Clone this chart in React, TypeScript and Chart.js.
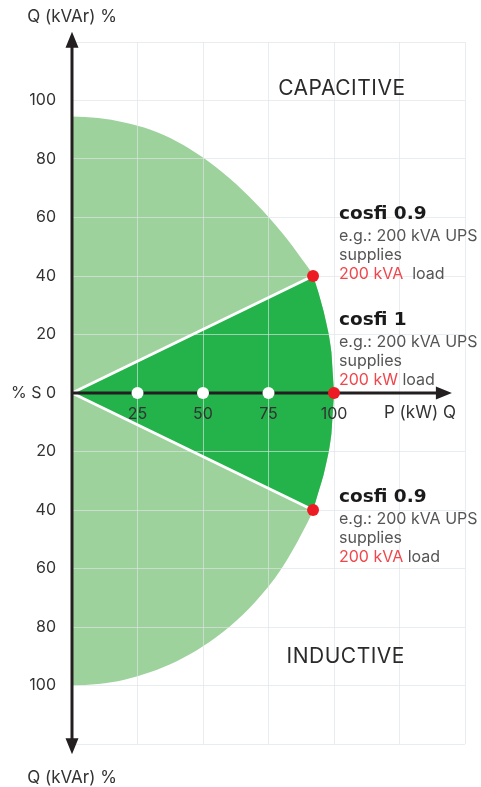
import { useEffect, useRef } from 'react';
import { Chart, registerables } from 'chart.js';

Chart.register(...registerables);

const FONT = 'Inter, "Open Sans", sans-serif';
const BOLD_FONT = '"DejaVu Sans", Inter, sans-serif';

// x (P, kW %) and y (Q, kVAr %) axis tick labels
const xTickLabels = [25, 50, 75, 100];
const yTickLabels = [100, 80, 60, 40, 20, 0, 20, 40, 60, 80, 100];
const zeroLabel = '% S 0';

// outline of the capability area
const arcX = [0, 10, 20, 30, 40, 50, 60, 70, 80, 88, 92, 94, 96, 98, 99, 100];
const upperArcY = [94.5, 94, 92.5, 90, 86, 80.5, 73.5, 65, 55, 45.5, 40, 34.5, 28, 20, 14, 0];
const lowerArcY = [-100, -99.5, -98, -95.4, -91.7, -86.6, -80, -71.4, -60, -47.5, -40, -34, -28, -20, -14, 0];

// cosfi wedge
const wedgeX = [0, 92, 94, 96, 98, 99, 100];
const upperWedgeY = [0, 40, 34.5, 28, 20, 14, 0];
const lowerWedgeY = [0, -40, -34, -28, -20, -14, 0];

// markers
const whiteDotX = [25, 50, 75];
const whiteDotY = [0, 0, 0];
const redDotX = [92, 100, 92];
const redDotY = [40, 0, -40];

// notes
const noteTitles = ['cosfi 0.9', 'cosfi 1', 'cosfi 0.9'];
const noteLine1 = ['e.g.: 200 kVA UPS', 'e.g.: 200 kVA UPS', 'e.g.: 200 kVA UPS'];
const noteLine2 = ['supplies', 'supplies', 'supplies'];
const noteRed = ['200 kVA', '200 kW', '200 kVA'];
const noteTail = ['  load', ' load', ' load'];
const noteAnchorX = [101.9, 101.9, 101.9];
const noteAnchorY = [61.0, 25.0, -35.5];

const regionLabels = ['CAPACITIVE', 'INDUCTIVE'];
const regionX = [103, 104.5];
const regionY = [104, -90.2];

const yAxisTitle = 'Q (kVAr) %';
const xAxisTitle = 'P (kW) Q';

const toPts = (xs: number[], ys: number[]) => xs.map((x, i) => ({ x, y: ys[i] }));

const LIGHT = '#9ed29c';
const DARK = '#24b24b';
const RED = '#ed1c24';
const AXIS = '#231f20';

const overlay = {
  id: 'overlay',
  beforeDatasetDraw(chart: any, args: any) {
    const ds = chart.data.datasets[args.index];
    if (ds.lateDraw) return false;
    return true;
  },
  afterDraw(chart: any) {
    const ctx = chart.ctx as CanvasRenderingContext2D;
    const xs = chart.scales.x;
    const ys = chart.scales.y;
    const drawLate = (kind: string) => {
      chart.data.datasets.forEach((ds: any, i: number) => {
        if (ds.lateDraw === kind) {
          ctx.save();
          chart.getDatasetMeta(i).controller.draw();
          ctx.restore();
        }
      });
    };
    drawLate('line');

    // axes with arrows
    const x0 = xs.getPixelForValue(0);
    const y0 = ys.getPixelForValue(0);
    const yTop = ys.getPixelForValue(123.5);
    const yBot = ys.getPixelForValue(-123.5);
    const xEnd = xs.getPixelForValue(145);
    const aw = 6.5;
    const al = 16;
    ctx.save();
    ctx.strokeStyle = AXIS;
    ctx.fillStyle = AXIS;
    ctx.lineWidth = 3;
    ctx.beginPath();
    ctx.moveTo(x0, yTop + al - 2);
    ctx.lineTo(x0, yBot - al + 2);
    ctx.moveTo(x0, y0);
    ctx.lineTo(xEnd - al + 2, y0);
    ctx.stroke();
    ctx.beginPath();
    ctx.moveTo(x0, yTop);
    ctx.lineTo(x0 + aw, yTop + al);
    ctx.lineTo(x0 - aw, yTop + al);
    ctx.closePath();
    ctx.moveTo(x0, yBot);
    ctx.lineTo(x0 + aw, yBot - al);
    ctx.lineTo(x0 - aw, yBot - al);
    ctx.closePath();
    ctx.moveTo(xEnd, y0);
    ctx.lineTo(xEnd - al, y0 - aw);
    ctx.lineTo(xEnd - al, y0 + aw);
    ctx.closePath();
    ctx.fill();
    ctx.restore();

    drawLate('dot');

    // texts
    ctx.save();
    ctx.textBaseline = 'middle';
    ctx.fillStyle = '#333';
    ctx.font = `17px ${FONT}`;
    ctx.textAlign = 'center';
    ctx.fillText(yAxisTitle, x0, 17);
    ctx.fillText(yAxisTitle, x0, chart.height - 9);
    ctx.fillText(xAxisTitle, xs.getPixelForValue(132.8), y0 + 20);

    ctx.font = `21px ${FONT}`;
    (ctx as any).letterSpacing = '0.5px';
    ctx.fillStyle = '#2a2a2a';
    regionLabels.forEach((t, i) => {
      ctx.fillText(t, xs.getPixelForValue(regionX[i]), ys.getPixelForValue(regionY[i]));
    });
    (ctx as any).letterSpacing = '0px';

    ctx.textAlign = 'left';
    noteTitles.forEach((t, i) => {
      const lx = xs.getPixelForValue(noteAnchorX[i]);
      const ly = ys.getPixelForValue(noteAnchorY[i]);
      ctx.font = `bold 18.5px ${BOLD_FONT}`;
      ctx.fillStyle = '#1a1a1a';
      ctx.fillText(t, lx, ly);
      ctx.font = `16px ${FONT}`;
      ctx.fillStyle = '#555';
      ctx.fillText(noteLine1[i], lx, ly + 22);
      ctx.fillText(noteLine2[i], lx, ly + 41);
      ctx.fillStyle = '#f0464c';
      ctx.fillText(noteRed[i], lx, ly + 60);
      const w = ctx.measureText(noteRed[i]).width;
      ctx.fillStyle = '#555';
      ctx.fillText(noteTail[i], lx + w, ly + 60);
    });
    ctx.restore();
  },
};

export default function App() {
  const ref = useRef<HTMLCanvasElement | null>(null);
  useEffect(() => {
    document.body.style.margin = '0';
    if (!ref.current) return;
    const gridColor = (c: any) =>
      c.tick && c.tick.value === 0 ? 'rgba(0,0,0,0)' : 'rgba(222,227,231,0.65)';
    const arcStyle = { showLine: true, fill: 'origin', backgroundColor: LIGHT, borderWidth: 0, pointRadius: 0, cubicInterpolationMode: 'monotone', order: 3 };
    const wedgeStyle = { showLine: true, fill: 'origin', backgroundColor: DARK, borderWidth: 0, pointRadius: 0, tension: 0, order: 2 };
    const chart = new Chart(ref.current, {
      type: 'scatter',
      data: {
        datasets: [
          { data: toPts(arcX, upperArcY), ...arcStyle } as any,
          { data: toPts(arcX, lowerArcY), ...arcStyle } as any,
          { data: toPts(wedgeX, upperWedgeY), ...wedgeStyle } as any,
          { data: toPts(wedgeX, lowerWedgeY), ...wedgeStyle } as any,
          { data: toPts(wedgeX.slice(0, 2), upperWedgeY.slice(0, 2)), showLine: true, borderColor: '#ffffff', borderWidth: 3, pointRadius: 0, order: 1, lateDraw: 'line' } as any,
          { data: toPts(wedgeX.slice(0, 2), lowerWedgeY.slice(0, 2)), showLine: true, borderColor: '#ffffff', borderWidth: 3, pointRadius: 0, order: 1, lateDraw: 'line' } as any,
          { data: toPts(whiteDotX, whiteDotY), pointRadius: 6, pointBackgroundColor: '#ffffff', pointBorderWidth: 0, order: 0, lateDraw: 'dot' } as any,
          { data: toPts(redDotX, redDotY), pointRadius: 6, pointBackgroundColor: RED, pointBorderWidth: 0, order: 0, lateDraw: 'dot' } as any,
        ],
      },
      options: {
        animation: false,
        responsive: false,
        devicePixelRatio: 1,
        layout: { padding: { top: 42, right: 16, bottom: 43, left: 0 } },
        plugins: { legend: { display: false }, tooltip: { enabled: false } },
        scales: {
          x: {
            type: 'linear',
            min: 0,
            max: 150,
            position: { y: 0 } as any,
            border: { display: false },
            grid: { color: gridColor, z: 1, drawTicks: false, lineWidth: 1 } as any,
            ticks: {
              z: 1,
              stepSize: 25,
              autoSkip: false,
              maxRotation: 0,
              padding: 12,
              color: '#333',
              font: { size: 16, family: FONT },
              callback: (v: any) => (xTickLabels.includes(Number(v)) ? String(v) : ''),
            } as any,
          },
          y: {
            type: 'linear',
            min: -120,
            max: 120,
            position: 'left',
            border: { display: false },
            grid: { color: gridColor, z: 1, drawTicks: false, lineWidth: 1 } as any,
            afterFit: (s: any) => {
              s.width = 72;
            },
            ticks: {
              stepSize: 20,
              autoSkip: false,
              padding: 16,
              color: '#333',
              font: { size: 16, family: FONT },
              callback: (v: any) => {
                const n = Number(v);
                const idx = Math.round((100 - n) / 20);
                if (n === 0) return zeroLabel;
                if (idx < 0 || idx >= yTickLabels.length) return '';
                return String(yTickLabels[idx]);
              },
            },
          },
        },
      },
      plugins: [overlay],
    });
    return () => chart.destroy();
  }, []);
  return <canvas ref={ref} width={481} height={787} style={{ display: 'block' }} />;
}
